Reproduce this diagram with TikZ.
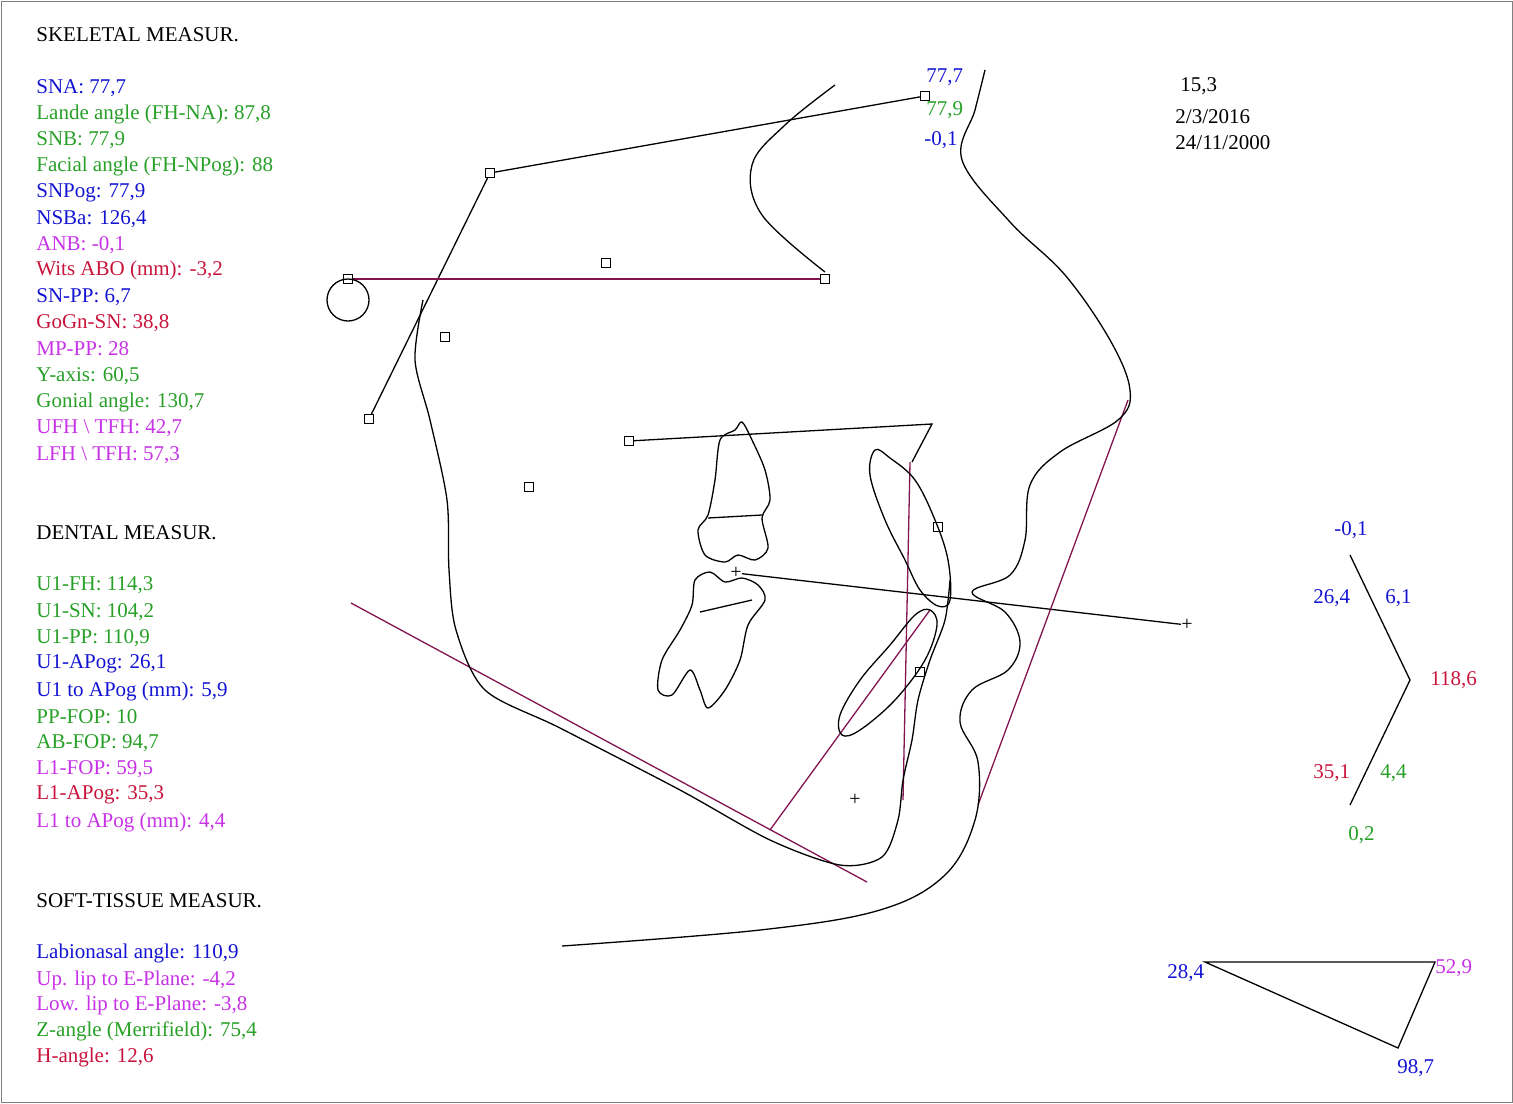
\documentclass[tikz,border=0pt]{standalone}
\usepackage{fontspec}
\setmainfont{Liberation Serif}
\definecolor{mblue}{RGB}{20,20,210}
\definecolor{mgreen}{RGB}{40,160,40}
\definecolor{mmag}{RGB}{200,50,230}
\definecolor{mred}{RGB}{200,20,60}
\definecolor{trace}{RGB}{130,20,80}
\tikzset{
  lbl/.style={anchor=west,inner sep=0pt,font=\fontsize{10.5}{12}\selectfont},
  pt/.style={draw,black,line width=0.6pt,minimum size=4.5pt,inner sep=0pt},
  crs/.style={inner sep=0pt,font=\fontsize{10}{10}\selectfont},
  ln/.style={line width=0.65pt},
}
\begin{document}
\begin{tikzpicture}[x=0.5pt,y=-0.5pt]
      \useasboundingbox (0,0) rectangle (1513,1103);
      \draw[gray] (1,1) rectangle (1512,1102);

      % measurement list
      \node[lbl] (t1) at (36,35) {SKELETAL MEASUR.};
      \node[lbl,mblue] (s1) at (36,88) {SNA: 77,7};
      \node[lbl,mgreen] (s2) at (36,114) {Lande angle (FH-NA): 87,8};
      \node[lbl,mgreen] (s3) at (36,140) {SNB: 77,9};
      \node[lbl,mgreen] (s4) at (36,166) {Facial angle (FH-NPog): 88};
      \node[lbl,mblue] (s5) at (36,193) {SNPog: 77,9};
      \node[lbl,mblue] (s6) at (36,219) {NSBa: 126,4};
      \node[lbl,mmag] (s7) at (36,245) {ANB: -0,1};
      \node[lbl,mred] (s8) at (36,270) {Wits ABO (mm): -3,2};
      \node[lbl,mblue] (s9) at (36,297) {SN-PP: 6,7};
      \node[lbl,mred] (s10) at (36,323) {GoGn-SN: 38,8};
      \node[lbl,mmag] (s11) at (36,349) {MP-PP: 28};
      \node[lbl,mgreen] (s12) at (36,376) {Y-axis: 60,5};
      \node[lbl,mgreen] (s13) at (36,402) {Gonial angle: 130,7};
      \node[lbl,mmag] (s14) at (36,428) {UFH \textbackslash{} TFH: 42,7};
      \node[lbl,mmag] (s15) at (36,455) {LFH \textbackslash{} TFH: 57,3};

      \node[lbl] (t2) at (36,533) {DENTAL MEASUR.};
      \node[lbl,mgreen] (d1) at (36,585) {U1-FH: 114,3};
      \node[lbl,mgreen] (d2) at (36,612) {U1-SN: 104,2};
      \node[lbl,mgreen] (d3) at (36,638) {U1-PP: 110,9};
      \node[lbl,mblue] (d4) at (36,664) {U1-APog: 26,1};
      \node[lbl,mblue] (d5) at (36,691) {U1 to APog (mm): 5,9};
      \node[lbl,mgreen] (d6) at (36,717) {PP-FOP: 10};
      \node[lbl,mgreen] (d7) at (36,743) {AB-FOP: 94,7};
      \node[lbl,mmag] (d8) at (36,769) {L1-FOP: 59,5};
      \node[lbl,mred] (d9) at (36,795) {L1-APog: 35,3};
      \node[lbl,mmag] (d10) at (36,822) {L1 to APog (mm): 4,4};

      \node[lbl] (t3) at (36,901) {SOFT-TISSUE MEASUR.};
      \node[lbl,mblue] (f1) at (36,953) {Labionasal angle: 110,9};
      \node[lbl,mmag] (f2) at (36,980) {Up. lip to E-Plane: -4,2};
      \node[lbl,mmag] (f3) at (36,1005) {Low. lip to E-Plane: -3,8};
      \node[lbl,mgreen] (f4) at (36,1031) {Z-angle (Merrifield): 75,4};
      \node[lbl,mred] (f5) at (36,1057) {H-angle: 12,6};

      % header values
      \node[lbl,mblue] (h1) at (926,77) {77,7};
      \node[lbl,mgreen] (h2) at (926,110) {77,9};
      \node[lbl,mblue] (h3) at (924,140) {-0,1};
      \node[lbl] (h4) at (1180,86) {15,3};
      \node[lbl] (h5) at (1175,117) {2/3/2016};
      \node[lbl] (h6) at (1175,143) {24/11/2000};

      % tracing points
      \node[pt] (ba) at (369,419) {};
      \node[pt] (s) at (490,173) {};
      \node[pt] (n) at (925,96) {};
      \node[pt] (po) at (348,279) {};
      \node[pt] (pt1) at (606,263) {};
      \node[pt] (or) at (825,279) {};
      \node[pt] (ar) at (445,337) {};
      \node[pt] (go) at (529,487) {};
      \node[pt] (pns) at (629,441) {};
      \node[pt] (a) at (938,527) {};
      \node[pt] (b) at (920,672) {};
      \node[crs] (c1) at (736,573) {+};
      \node[crs] (c2) at (1187,625) {+};
      \node[crs] (c3) at (855,800) {+};

      \draw[ln] (ba) -- (s) -- (n);
      \draw[trace,ln] (po) -- (or);
      \draw[ln] (348,300) circle[radius=21];
      \draw[ln] (pns) -- (932,424) -- (912,462);
      \draw[ln] (c1) -- (c2);

      % planes
      \draw[trace,ln] (351,603) -- (867,882);
      \draw[trace,ln] (1128,400) -- (978,805);
      \draw[trace,ln] (910,462) -- (903,800);
      \draw[trace,ln] (770,830) -- (930,610);

      % soft tissue profile
      \draw[ln] plot[smooth,tension=0.6] coordinates {(985,70) (975,110) (962,160) (1010,222) (1065,275) (1110,340) (1130,390) (1118,420) (1060,452) (1030,485) (1025,540) (1010,575) (972,592) (1005,612) (1020,642) (1008,670) (972,690) (960,722) (978,762) (975,820) (945,875) (880,910) (760,930) (562,946)};
      % nasal / bony outline
      \draw[ln] plot[smooth,tension=0.6] coordinates {(835,85) (785,125) (752,165) (762,215) (825,272)};
      \draw[ln] plot[smooth,tension=0.5] coordinates {(423,300) (415,360) (430,420) (447,500) (449,570) (456,630) (485,690) (560,728) (680,790) (770,840) (840,865) (882,857) (898,820) (903,780) (912,740) (918,700) (930,660) (945,620) (950,580)};
      % upper incisor
      \draw[ln] plot[smooth cycle,tension=0.6] coordinates {(875,450) (890,458) (915,480) (935,520) (948,560) (950,600) (938,606) (920,590) (905,560) (885,520) (870,475)};
      % lower incisor
      \draw[ln] plot[smooth cycle,tension=0.6] coordinates {(930,610) (937,625) (925,660) (895,700) (860,730) (842,735) (840,715) (860,680) (890,645) (915,615)};
      % upper molar
      \draw[ln] plot[smooth cycle,tension=0.5] coordinates {(720,440) (735,430) (742,422) (752,440) (765,470) (770,500) (762,518) (768,548) (755,560) (738,555) (725,562) (705,555) (698,530) (708,515) (715,480)};
      \draw[ln] (708,518) -- (762,515);
      % lower molar
      \draw[ln] plot[smooth cycle,tension=0.5] coordinates {(695,580) (710,572) (725,582) (742,578) (758,585) (765,600) (748,625) (740,660) (725,690) (708,708) (700,690) (690,670) (672,695) (658,690) (662,660) (680,630) (692,605)};
      \draw[ln] (700,612) -- (752,600);

      % interceptor
      \coordinate (i1) at (1350,555);
      \coordinate (i2) at (1410,680);
      \coordinate (i3) at (1350,805);
      \draw[ln] (i1) -- (i2) -- (i3);
      \node[lbl,mblue] (g1) at (1334,530) {-0,1};
      \node[lbl,mblue] (g2) at (1313,598) {26,4};
      \node[lbl,mblue] (g3) at (1385,598) {6,1};
      \node[lbl,mred] (g4) at (1430,680) {118,6};
      \node[lbl,mred] (g5) at (1313,773) {35,1};
      \node[lbl,mgreen] (g6) at (1380,773) {4,4};
      \node[lbl,mgreen] (g7) at (1348,835) {0,2};

      % triangle
      \coordinate (k1) at (1205,962);
      \coordinate (k2) at (1435,962);
      \coordinate (k3) at (1398,1048);
      \draw[ln] (k1) -- (k2) -- (k3) -- cycle;
      \node[lbl,mblue] (r1) at (1167,973) {28,4};
      \node[lbl,mmag] (r2) at (1435,968) {52,9};
      \node[lbl,mblue] (r3) at (1397,1068) {98,7};

    \end{tikzpicture}
\end{document}
